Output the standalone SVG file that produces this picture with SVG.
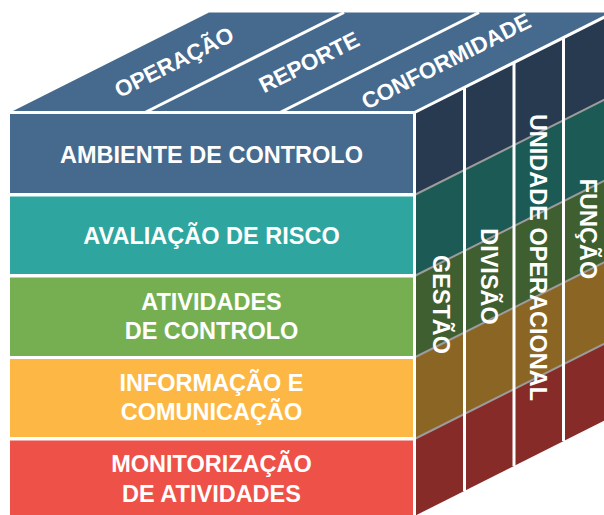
<svg xmlns="http://www.w3.org/2000/svg" width="604" height="515" viewBox="0 0 604 515">
<style>
.t{font-family:"Liberation Sans",Arial,sans-serif;font-weight:bold;font-size:23.5px;fill:#ffffff;text-anchor:middle}
.tt{font-family:"Liberation Sans",Arial,sans-serif;font-weight:bold;font-size:22.5px;fill:#ffffff;text-anchor:middle}
.w{stroke:#ffffff;stroke-width:3;fill:none}
.g{stroke:#9c9c9c;stroke-width:2;fill:none}
</style>
<rect width="604" height="515" fill="#ffffff"/>
<g id="top-face">
<polygon points="10,112.5 414.5,112.5 613.5,12.5 209,12.5" fill="#466a8e"/>
<line class="w" x1="145" y1="112.5" x2="344" y2="12.5"/>
<line class="w" x1="280" y1="112.5" x2="479" y2="12.5"/>
</g>
<g id="operacao"><text class="tt" transform="translate(174,62) rotate(-26.7)" x="0" y="8">OPERAÇÃO</text></g>
<g id="reporte"><text class="tt" transform="translate(309,62) rotate(-26.7)" x="0" y="8">REPORTE</text></g>
<g id="conformidade"><text class="tt" transform="translate(446,61) rotate(-26.7)" x="0" y="8">CONFORMIDADE</text></g>
<g id="right-face">
<polygon points="414.5,112.5 613.5,12.5 613.5,95 414.5,195" fill="#283a50"/>
<polygon points="414.5,195 613.5,95 613.5,176 414.5,276" fill="#1c5a56"/>
<polygon points="414.5,276 613.5,176 613.5,257.5 414.5,357.5" fill="#405f30"/>
<polygon points="414.5,357.5 613.5,257.5 613.5,339 414.5,439" fill="#8b6524"/>
<polygon points="414.5,439 613.5,339 613.5,416 414.5,516" fill="#872b29"/>
<line class="g" x1="414.5" y1="195" x2="613.5" y2="95"/>
<line class="g" x1="414.5" y1="276" x2="613.5" y2="176"/>
<line class="g" x1="414.5" y1="357.5" x2="613.5" y2="257.5"/>
<line class="g" x1="414.5" y1="439" x2="613.5" y2="339"/>
<line class="w" x1="464.5" y1="87.4" x2="464.5" y2="490.9"/>
<line class="w" x1="514" y1="62.5" x2="514" y2="466"/>
<line class="w" x1="563.5" y1="37.6" x2="563.5" y2="441.1"/>
</g>
<g id="gestao"><text class="t" transform="translate(441,304.5) rotate(90)" x="0" y="8.5">GESTÃO</text></g>
<g id="divisao"><text class="t" transform="translate(489,276.5) rotate(90)" x="0" y="8.5">DIVISÃO</text></g>
<g id="unidade-operacional"><text class="t" transform="translate(538.5,257.5) rotate(90)" x="0" y="8.5">UNIDADE OPERACIONAL</text></g>
<g id="funcao"><text class="t" transform="translate(588,229) rotate(90)" x="0" y="8.5">FUNÇÃO</text></g>
<g id="ambiente-de-controlo">
<rect x="10" y="114" width="403" height="79" fill="#466a8e"/>
<text class="t" x="211.5" y="162.5">AMBIENTE DE CONTROLO</text>
</g>
<g id="avaliacao-de-risco">
<rect x="10" y="196.5" width="403" height="77.5" fill="#2fa5a0"/>
<text class="t" x="211.5" y="243.5">AVALIAÇÃO DE RISCO</text>
</g>
<g id="atividades-de-controlo">
<rect x="10" y="277.5" width="403" height="78.5" fill="#75af52"/>
<text class="t" x="211.5" y="310">ATIVIDADES</text>
<text class="t" x="211.5" y="339">DE CONTROLO</text>
</g>
<g id="informacao-e-comunicacao">
<rect x="10" y="359" width="403" height="78" fill="#fdb744"/>
<text class="t" x="211.5" y="390.5">INFORMAÇÃO E</text>
<text class="t" x="211.5" y="420">COMUNICAÇÃO</text>
</g>
<g id="monitorizacao-de-atividades">
<rect x="10" y="440.5" width="403" height="76" fill="#ee5148"/>
<text class="t" x="211.5" y="471.5">MONITORIZAÇÃO</text>
<text class="t" x="211.5" y="501.5">DE ATIVIDADES</text>
</g>
<g id="edges">
<line class="w" x1="8" y1="112.5" x2="414.5" y2="112.5"/>
<line class="w" x1="414.5" y1="112.5" x2="414.5" y2="516"/>
<line class="w" x1="414.5" y1="112.5" x2="613.5" y2="12.5"/>
</g>
</svg>
